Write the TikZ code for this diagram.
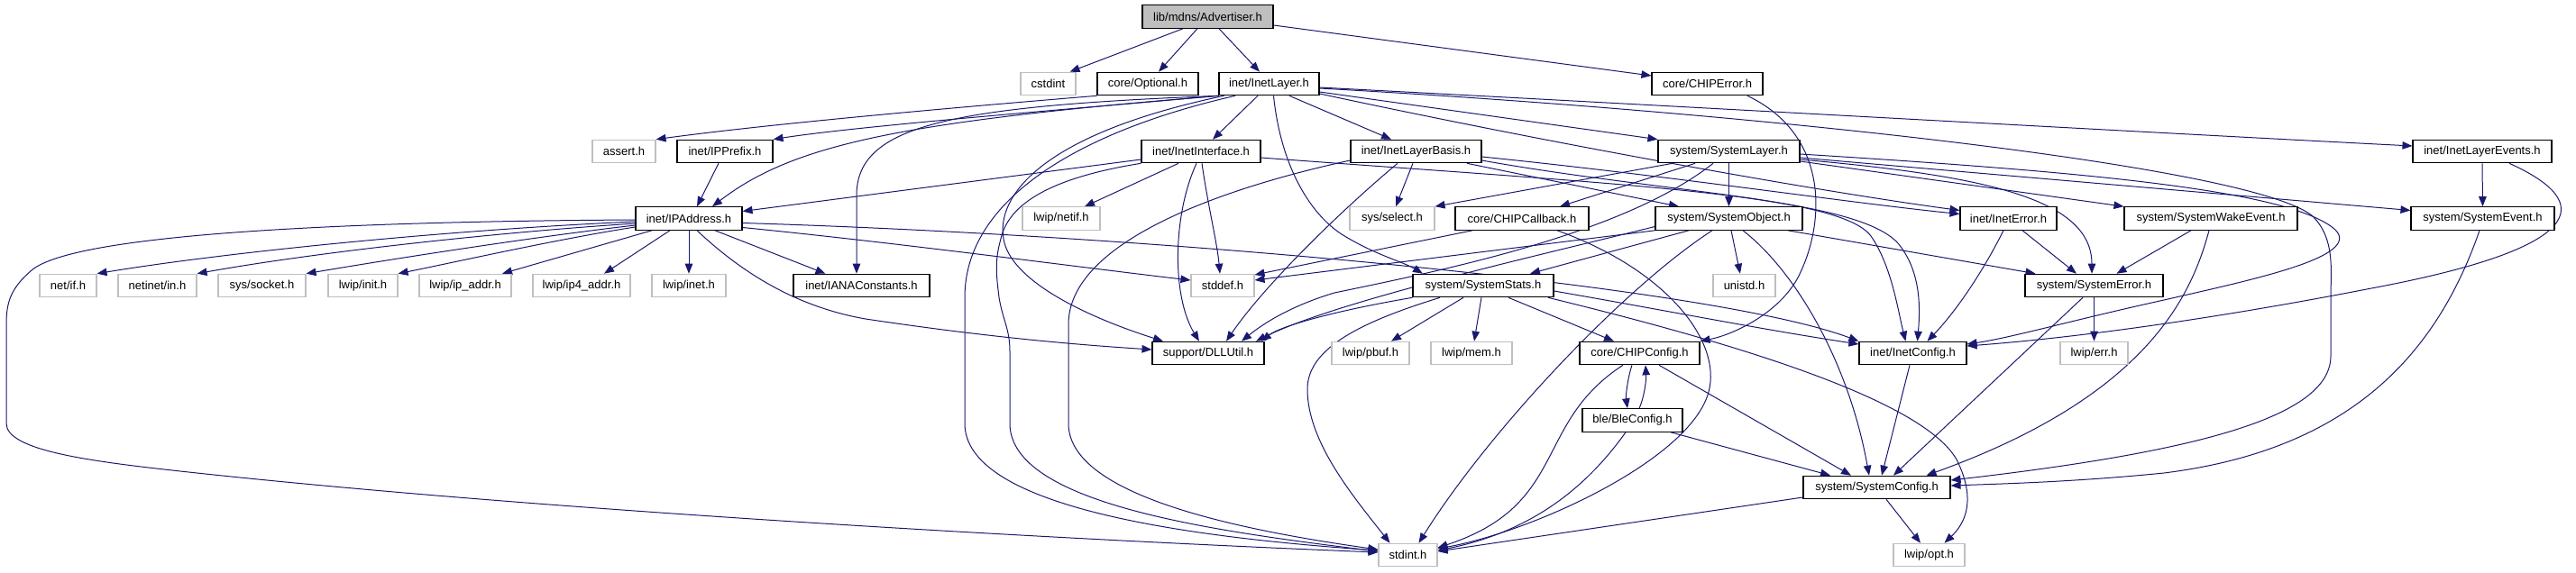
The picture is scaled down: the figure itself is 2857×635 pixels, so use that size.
\documentclass[tikz,border=0pt]{standalone}
\usepackage{fontspec}
\setmainfont{Liberation Sans}
\usetikzlibrary{arrows.meta}
\definecolor{edgeblue}{HTML}{191970}
\definecolor{grayb}{HTML}{BFBFBF}
\pgfdeclarelayer{edgelayer}
\pgfsetlayers{edgelayer,main}
\begin{document}
\begin{tikzpicture}[x=1pt,y=-1pt,
 box/.style={draw=black,line width=1.1pt,minimum height=25.5pt,inner sep=0pt,font=\fontsize{13}{15}\selectfont,text=black,fill=white},
 gbox/.style={box,draw=grayb},
 rootbox/.style={box,fill=grayb},
 e/.style={draw=edgeblue,line width=1pt,-{Triangle[length=11pt,width=8.5pt]}}]
\useasboundingbox (0,0) rectangle (2857,635);
% ---------- nodes ----------
\node[rootbox,minimum width=145pt] (adv) at (1339.5,18.5) {lib/mdns/Advertiser.h};
\node[gbox,minimum width=61pt] (cstdint) at (1162.5,93) {cstdint};
\node[box,minimum width=112pt] (optional) at (1273,93) {core/Optional.h};
\node[box,minimum width=111pt] (inetlayer) at (1407.5,93) {inet/InetLayer.h};
\node[box,minimum width=123pt] (chiperror) at (1893.5,93) {core/CHIPError.h};
\node[gbox,minimum width=70pt] (assert) at (692,168) {assert.h};
\node[box,minimum width=106pt] (ipprefix) at (804,168) {inet/IPPrefix.h};
\node[box,minimum width=132pt] (inetinterface) at (1332,168) {inet/InetInterface.h};
\node[box,minimum width=145pt] (inetlayerbasis) at (1570.5,168) {inet/InetLayerBasis.h};
\node[box,minimum width=157pt] (systemlayer) at (1917.5,168) {system/SystemLayer.h};
\node[box,minimum width=154pt] (inetlayerevents) at (2753,168) {inet/InetLayerEvents.h};
\node[box,minimum width=118pt] (ipaddress) at (764,242.5) {inet/IPAddress.h};
\node[gbox,minimum width=86pt] (netif) at (1177,242.5) {lwip/netif.h};
\node[gbox,minimum width=94pt] (select) at (1544,242.5) {sys/select.h};
\node[box,minimum width=148pt] (chipcallback) at (1688,242.5) {core/CHIPCallback.h};
\node[box,minimum width=163pt] (systemobject) at (1917.5,242.5) {system/SystemObject.h};
\node[box,minimum width=107pt] (ineterror) at (2227.5,242.5) {inet/InetError.h};
\node[box,minimum width=192pt] (wakeevent) at (2452,242.5) {system/SystemWakeEvent.h};
\node[box,minimum width=159pt] (systemevent) at (2753.5,242.5) {system/SystemEvent.h};
\node[gbox,minimum width=63pt] (netifh) at (75.5,317) {net/if.h};
\node[gbox,minimum width=87pt] (netinetin) at (174.5,317) {netinet/in.h};
\node[gbox,minimum width=97pt] (socket) at (290.5,317) {sys/socket.h};
\node[gbox,minimum width=77pt] (lwipinit) at (402.5,317) {lwip/init.h};
\node[gbox,minimum width=102pt] (ipaddr) at (516,317) {lwip/ip\_addr.h};
\node[gbox,minimum width=108pt] (ipfouraddr) at (645,317) {lwip/ip4\_addr.h};
\node[gbox,minimum width=82pt] (lwipinet) at (764,317) {lwip/inet.h};
\node[box,minimum width=151pt] (iana) at (955.5,317) {inet/IANAConstants.h};
\node[gbox,minimum width=70pt] (stddef) at (1356,317) {stddef.h};
\node[box,minimum width=156pt] (systemstats) at (1645,317) {system/SystemStats.h};
\node[gbox,minimum width=69pt] (unistd) at (1934.5,317) {unistd.h};
\node[box,minimum width=153pt] (systemerror) at (2322.5,317) {system/SystemError.h};
\node[box,minimum width=124pt] (dllutil) at (1340,392) {support/DLLUtil.h};
\node[gbox,minimum width=86pt] (pbuf) at (1520,392) {lwip/pbuf.h};
\node[gbox,minimum width=90pt] (mem) at (1632,392) {lwip/mem.h};
\node[box,minimum width=133pt] (chipconfig) at (1818.5,392) {core/CHIPConfig.h};
\node[box,minimum width=119pt] (inetconfig) at (2121.5,392) {inet/InetConfig.h};
\node[gbox,minimum width=75pt] (err) at (2322.5,392) {lwip/err.h};
\node[box,minimum width=111pt] (bleconfig) at (1810.5,466.5) {ble/BleConfig.h};
\node[box,minimum width=163pt] (systemconfig) at (2081.5,541) {system/SystemConfig.h};
\node[gbox,minimum width=65pt] (stdint) at (1561.5,616) {stdint.h};
\node[gbox,minimum width=79pt] (opt) at (2139.5,616) {lwip/opt.h};
% ---------- edges ----------
\begin{pgfonlayer}{edgelayer}
% Advertiser
\draw[e] ([xshift=-27.5pt]adv.south) -- ([xshift=24pt]cstdint.north);
\draw[e] ([xshift=-11.5pt]adv.south) -- ([xshift=12pt]optional.north);
\draw[e] ([xshift=12.5pt]adv.south) -- ([xshift=-10.5pt]inetlayer.north);
\draw[e] ([yshift=-9.5pt]adv.east) -- ([yshift=9pt]chiperror.west);
% Optional
\draw[e] (optional.south west) .. controls (1050,120) and (850,138) .. (assert.north east);
% InetLayer
\draw[e] (inetlayer.south west) .. controls (1200,120) and (950,140) .. (ipprefix.north east);
\draw[e] (inetlayer.south west) .. controls (1000,135) and (880,160) .. ([xshift=26pt]ipaddress.north);
\draw[e] (inetlayer.south west) .. controls (1050,118) and (952,140) .. (950,215) -- ([xshift=-5.5pt]iana.north);
\draw[e] ([xshift=-37.5pt]inetlayer.south) .. controls (1200,145) and (1070,220) .. (1070,330) -- (1070,470) .. controls (1070,560) and (1300,595) .. ([yshift=5pt]stdint.west);
\draw[e] ([xshift=-50pt]inetlayer.south) .. controls (1150,150) and (1105,220) .. (1113,265) .. controls (1120,310) and (1200,350) .. ([xshift=-50pt]dllutil.north);
\draw[e] ([xshift=-12.5pt]inetlayer.south) -- ([xshift=13pt]inetinterface.north);
\draw[e] ([xshift=22.5pt]inetlayer.south) -- ([xshift=-27.5pt]inetlayerbasis.north);
\draw[e] ([yshift=-9pt]inetlayer.east) -- (systemlayer.north west);
\draw[e] ([yshift=-4pt]inetlayer.east) .. controls (1900,120) and (2400,148) .. ([yshift=6pt]inetlayerevents.west);
\draw[e] ([yshift=-5pt]inetlayer.east) .. controls (1950,125) and (2500,185) .. (2565,240) .. controls (2590,265) and (2585,300) .. (2585,330) -- (2585,395) .. controls (2585,460) and (2450,500) .. ([yshift=8pt]systemconfig.east);
\draw[e] ([yshift=-11pt]inetlayer.east) .. controls (1700,155) and (2000,210) .. ([yshift=9pt]ineterror.west);
\draw[e] ([xshift=5pt]inetlayer.south) .. controls (1420,180) and (1450,235) .. (1488,260) .. controls (1525,283) and (1555,290) .. ([xshift=-67pt]systemstats.north);
% IPPrefix
\draw[e] ([xshift=-7pt]ipprefix.south) -- ([xshift=9pt]ipaddress.north);
% InetInterface
\draw[e] ([yshift=-9pt]inetinterface.west) -- ([yshift=8pt]ipaddress.east);
\draw[e] ([xshift=-25pt]inetinterface.south) -- ([xshift=26pt]netif.north);
\draw[e] ([xshift=1pt]inetinterface.south) .. controls (1340,230) and (1350,270) .. ([xshift=-3pt]stddef.north);
\draw[e] ([xshift=-5pt]inetinterface.south) .. controls (1300,240) and (1300,330) .. ([xshift=-10pt]dllutil.north);
\draw[e] (inetinterface.south west) .. controls (1180,195) and (1120,220) .. (1110,265) .. controls (1103,290) and (1105,305) .. (1108,330) .. controls (1112,355) and (1120,365) .. (1120,390) -- (1120,470) .. controls (1120,560) and (1350,590) .. ([yshift=4pt]stdint.west);
\draw[e] ([yshift=-7pt]inetinterface.east) .. controls (1800,205) and (2040,215) .. (2075,262) .. controls (2098,295) and (2105,345) .. ([xshift=-8pt]inetconfig.north);
% IPAddress
\draw[e] ([yshift=-3.5pt]ipaddress.west) .. controls (500,255) and (250,280) .. (netifh.north east);
\draw[e] ([yshift=-5.5pt]ipaddress.west) .. controls (550,258) and (350,280) .. (netinetin.north east);
\draw[e] ([yshift=-7.5pt]ipaddress.west) .. controls (600,262) and (450,285) .. (socket.north east);
\draw[e] ([yshift=-9.5pt]ipaddress.west) .. controls (620,265) and (500,292) .. (lwipinit.north east);
\draw[e] ([xshift=-41pt]ipaddress.south) -- ([xshift=41pt]ipaddr.north);
\draw[e] ([xshift=-21pt]ipaddress.south) -- ([xshift=25pt]ipfouraddr.north);
\draw[e] (ipaddress.south) -- (lwipinet.north);
\draw[e] ([xshift=29pt]ipaddress.south) -- ([xshift=-40pt]iana.north);
\draw[e] ([yshift=-10pt]ipaddress.east) .. controls (1000,270) and (1200,297) .. ([yshift=6pt]stddef.west);
\draw[e] ([yshift=-5pt]ipaddress.east) .. controls (1300,262) and (1900,318) .. (inetconfig.north west);
\draw[e] ([xshift=9pt]ipaddress.south) .. controls (820,300) and (880,340) .. (960,354) .. controls (1100,375) and (1200,383) .. ([yshift=4pt]dllutil.west);
\draw[e] ([yshift=-1.5pt]ipaddress.west) .. controls (350,246) and (80,262) .. (35,300) .. controls (12,320) and (7,335) .. (7,360) -- (7,470) .. controls (7,500) and (100,512) .. (200,523) .. controls (600,567) and (1200,600) .. ([yshift=3pt]stdint.west);
% InetLayerBasis
\draw[e] ([xshift=-3.5pt]inetlayerbasis.south) -- ([xshift=4pt]select.north);
\draw[e] ([xshift=56.5pt]inetlayerbasis.south) -- ([xshift=-55.5pt]systemobject.north);
\draw[e] ([yshift=-10pt]inetlayerbasis.west) .. controls (1350,210) and (1185,270) .. (1185,360) -- (1185,470) .. controls (1185,545) and (1350,585) .. ([yshift=6pt]stdint.west);
\draw[e] ([xshift=-20.5pt]inetlayerbasis.south) .. controls (1480,240) and (1400,320) .. ([xshift=20pt]dllutil.north);
\draw[e] ([yshift=-6pt]inetlayerbasis.east) .. controls (1850,195) and (2050,225) .. ([yshift=5pt]ineterror.west);
\draw[e] ([yshift=-10pt]inetlayerbasis.east) .. controls (1850,215) and (2060,220) .. (2105,270) .. controls (2130,300) and (2130,340) .. ([xshift=5pt]inetconfig.north);
% SystemLayer
\draw[e] ([xshift=-62.5pt]systemlayer.south) -- (select.north east);
\draw[e] ([xshift=-37.5pt]systemlayer.south) -- ([xshift=42pt]chipcallback.north);
\draw[e] (systemlayer.south) -- (systemobject.north);
\draw[e] ([xshift=-17.5pt]systemlayer.south) .. controls (1800,260) and (1600,300) .. (1480,325) .. controls (1430,340) and (1400,360) .. ([xshift=37pt]dllutil.north);
\draw[e] ([yshift=-9pt]systemlayer.east) .. controls (2200,195) and (2320,220) .. ([xshift=-2.5pt]systemerror.north);
\draw[e] ([yshift=-11pt]systemlayer.east) -- (wakeevent.north west);
\draw[e] ([yshift=-7pt]systemlayer.east) -- ([yshift=9pt]systemevent.west);
\draw[e] ([yshift=-3pt]systemlayer.east) .. controls (2300,190) and (2540,210) .. (2590,255) .. controls (2620,285) and (2500,310) .. (2400,333) .. controls (2300,355) and (2230,375) .. ([yshift=10pt]inetconfig.east);
% CHIPCallback
\draw[e] ([xshift=-55pt]chipcallback.south) -- ([yshift=12pt]stddef.east);
\draw[e] ([xshift=39pt]chipcallback.south) .. controls (1850,300) and (1910,380) .. (1895,435) .. controls (1875,510) and (1700,590) .. ([yshift=7pt]stdint.east);
% SystemObject
\draw[e] (systemobject.south west) -- ([yshift=6pt]stddef.east);
\draw[e] ([yshift=-9pt]systemobject.west) .. controls (1700,285) and (1480,335) .. ([xshift=53pt]dllutil.north);
\draw[e] ([xshift=-44.5pt]systemobject.south) -- ([xshift=52pt]systemstats.north);
\draw[e] ([xshift=2.5pt]systemobject.south) -- ([xshift=-4.5pt]unistd.north);
\draw[e] ([xshift=65.5pt]systemobject.south) -- ([xshift=-65pt]systemerror.north);
\draw[e] ([xshift=15.5pt]systemobject.south) .. controls (1990,300) and (2050,400) .. ([xshift=-8.5pt]systemconfig.north);
\draw[e] ([xshift=-18.5pt]systemobject.south) .. controls (1800,320) and (1650,480) .. ([xshift=12pt]stdint.north);
% InetError
\draw[e] ([xshift=15.5pt]ineterror.south) -- ([xshift=-19.5pt]systemerror.north);
\draw[e] ([xshift=-5.5pt]ineterror.south) .. controls (2200,300) and (2170,345) .. ([xshift=16pt]inetconfig.north);
% SystemWakeEvent
\draw[e] ([xshift=-22pt]wakeevent.south) -- ([xshift=25pt]systemerror.north);
\draw[e] ([xshift=-2pt]wakeevent.south) .. controls (2430,330) and (2380,440) .. ([xshift=55pt]systemconfig.north);
% SystemEvent
\draw[e] ([xshift=-3.5pt]systemevent.south) .. controls (2700,400) and (2600,500) .. (2400,525) .. controls (2300,535) and (2220,537) .. ([yshift=2pt]systemconfig.east);
% InetLayerEvents
\draw[e] (inetlayerevents.south) -- (systemevent.north);
\draw[e] ([xshift=30pt]inetlayerevents.south) .. controls (2880,225) and (2870,275) .. (2630,320) .. controls (2450,355) and (2300,375) .. ([yshift=8pt]inetconfig.east);
% SystemError
\draw[e] (systemerror.south) -- (err.north);
\draw[e] ([xshift=-12.5pt]systemerror.south) -- ([xshift=18.5pt]systemconfig.north);
% InetConfig
\draw[e] ([xshift=-3.5pt]inetconfig.south) -- ([xshift=5.5pt]systemconfig.north);
% SystemConfig
\draw[e] ([yshift=-11pt]systemconfig.west) -- ([yshift=4pt]stdint.east);
\draw[e] ([xshift=10.5pt]systemconfig.south) -- ([xshift=-9.5pt]opt.north);
% CHIPConfig / BleConfig
\draw[e] ([xshift=-8.5pt]chipconfig.south) .. controls (1805,420) and (1803,440) .. ([xshift=-5.5pt]bleconfig.north);
\draw[e] ([xshift=7.5pt]bleconfig.north) .. controls (1824,440) and (1826,420) .. ([xshift=6.5pt]chipconfig.south);
\draw[e] ([xshift=21.5pt]chipconfig.south) -- ([xshift=-28.5pt]systemconfig.north);
\draw[e] ([xshift=-18.5pt]chipconfig.south) .. controls (1700,470) and (1740,560) .. ([yshift=8pt]stdint.east);
\draw[e] ([xshift=42.5pt]bleconfig.south) -- ([xshift=-51.5pt]systemconfig.north);
\draw[e] ([xshift=-7.5pt]bleconfig.south) .. controls (1760,540) and (1700,590) .. ([yshift=5pt]stdint.east);
% SystemStats
\draw[e] ([xshift=-22pt]systemstats.south) -- ([xshift=23pt]pbuf.north);
\draw[e] ([xshift=-2pt]systemstats.south) -- ([xshift=3pt]mem.north);
\draw[e] ([xshift=28pt]systemstats.south) -- ([xshift=-28.5pt]chipconfig.north);
\draw[e] ([xshift=-48pt]systemstats.south) .. controls (1500,360) and (1450,390) .. (1450,432) .. controls (1450,490) and (1500,550) .. ([xshift=-20pt]stdint.north);
\draw[e] (systemstats.south west) .. controls (1480,345) and (1420,362) .. ([xshift=59pt]dllutil.north);
\draw[e] ([yshift=-6pt]systemstats.east) .. controls (1850,345) and (1950,365) .. ([yshift=10pt]inetconfig.west);
\draw[e] ([xshift=72pt]systemstats.south) .. controls (1900,375) and (2130,440) .. (2170,510) .. controls (2195,560) and (2175,585) .. ([xshift=17pt]opt.north);
% CHIPError
\draw[e] ([xshift=44.5pt]chiperror.south) .. controls (2030,150) and (2025,250) .. (1993,310) .. controls (1970,350) and (1920,372) .. (chipconfig.north east);
\end{pgfonlayer}
\end{tikzpicture}
\end{document}
